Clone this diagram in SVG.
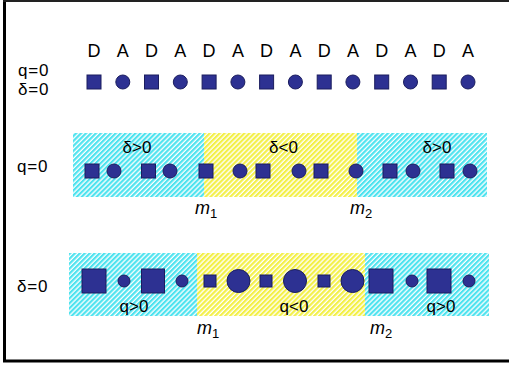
<svg xmlns="http://www.w3.org/2000/svg" width="509" height="368" viewBox="0 0 509 368">
<defs>
<pattern id="hc" patternUnits="userSpaceOnUse" width="3.5" height="3.5" patternTransform="rotate(45)">
<rect width="3.5" height="3.5" fill="#ffffff"/><rect width="2.2" height="3.5" fill="#4ee3ef"/>
</pattern>
<pattern id="hy" patternUnits="userSpaceOnUse" width="3.5" height="3.5" patternTransform="rotate(45)">
<rect width="3.5" height="3.5" fill="#ffffff"/><rect width="2.2" height="3.5" fill="#f3f048"/>
</pattern>
</defs>
<style>
text{font-family:"Liberation Sans",Arial,sans-serif;fill:#000}
.L{font-size:18px;text-anchor:middle}
.t{font-size:17px;letter-spacing:0.8px}
.c{font-size:17px;text-anchor:middle}
.m{font-size:18px;font-style:italic}
.s{font-size:13px;font-style:normal}
.sh{fill:#2d3192;stroke:#1b1d5e;stroke-width:1}
</style>
<rect width="509" height="368" fill="#ffffff"/>
<g id="frame" stroke="#000" fill="none">
<line x1="4.5" y1="0" x2="4.5" y2="362" stroke-width="3"/>
<line x1="3" y1="1" x2="509" y2="1" stroke-width="2" stroke="#222"/>
<line x1="3" y1="361" x2="509" y2="361" stroke-width="3"/>
</g>
<g id="row1">
<g id="letters">
<text class="L" x="94" y="57">D</text><text class="L" x="122.8" y="57">A</text>
<text class="L" x="151.5" y="57">D</text><text class="L" x="180.3" y="57">A</text>
<text class="L" x="209.1" y="57">D</text><text class="L" x="237.9" y="57">A</text>
<text class="L" x="266.6" y="57">D</text><text class="L" x="295.4" y="57">A</text>
<text class="L" x="324.2" y="57">D</text><text class="L" x="352.9" y="57">A</text>
<text class="L" x="381.7" y="57">D</text><text class="L" x="410.5" y="57">A</text>
<text class="L" x="439.2" y="57">D</text><text class="L" x="468" y="57">A</text>
</g>
<text class="t" x="18" y="76">q=0</text>
<text class="t" x="18" y="95">δ=0</text>
<g id="chain1">
<rect class="sh" x="87" y="75" width="14" height="14"/><circle class="sh" cx="122.8" cy="82" r="7"/>
<rect class="sh" x="144.5" y="75" width="14" height="14"/><circle class="sh" cx="180.3" cy="82" r="7"/>
<rect class="sh" x="202.1" y="75" width="14" height="14"/><circle class="sh" cx="237.9" cy="82" r="7"/>
<rect class="sh" x="259.6" y="75" width="14" height="14"/><circle class="sh" cx="295.4" cy="82" r="7"/>
<rect class="sh" x="317.2" y="75" width="14" height="14"/><circle class="sh" cx="352.9" cy="82" r="7"/>
<rect class="sh" x="374.7" y="75" width="14" height="14"/><circle class="sh" cx="410.5" cy="82" r="7"/>
<rect class="sh" x="432.2" y="75" width="14" height="14"/><circle class="sh" cx="468" cy="82" r="7"/>
</g>
</g>
<g id="row2">
<rect x="73" y="133" width="131" height="64" fill="url(#hc)"/>
<rect x="204" y="133" width="153" height="64" fill="url(#hy)"/>
<rect x="357" y="133" width="130" height="64" fill="url(#hc)"/>
<text class="t" x="17" y="172">q=0</text>
<text class="c" x="137" y="153">δ&gt;0</text>
<text class="c" x="283.5" y="153">δ&lt;0</text>
<text class="c" x="437" y="153">δ&gt;0</text>
<g id="chain2">
<rect class="sh" x="85" y="164" width="14" height="14"/><circle class="sh" cx="114" cy="171" r="7"/>
<rect class="sh" x="141.5" y="164" width="14" height="14"/><circle class="sh" cx="170" cy="171" r="7"/>
<rect class="sh" x="199" y="164" width="14" height="14"/><circle class="sh" cx="240" cy="171" r="7"/>
<rect class="sh" x="256" y="164" width="14" height="14"/><circle class="sh" cx="299" cy="171" r="7"/>
<rect class="sh" x="314" y="164" width="14" height="14"/><circle class="sh" cx="356" cy="171" r="7"/>
<rect class="sh" x="383" y="164" width="14" height="14"/><circle class="sh" cx="413" cy="171" r="7"/>
<rect class="sh" x="440" y="164" width="14" height="14"/><circle class="sh" cx="470" cy="171" r="7"/>
</g>
<text class="m" x="195" y="214">m<tspan class="s" dy="4">1</tspan></text>
<text class="m" x="350" y="214">m<tspan class="s" dy="4">2</tspan></text>
</g>
<g id="row3">
<rect x="69" y="253" width="128" height="63" fill="url(#hc)"/>
<rect x="197" y="253" width="168" height="63" fill="url(#hy)"/>
<rect x="365" y="253" width="124" height="63" fill="url(#hc)"/>
<text class="t" x="17" y="292">δ=0</text>
<text class="c" x="134" y="312">q&gt;0</text>
<text class="c" x="294" y="312">q&lt;0</text>
<text class="c" x="441" y="312">q&gt;0</text>
<g id="chain3">
<rect class="sh" x="82" y="269" width="24" height="24"/><circle class="sh" cx="124" cy="281" r="6"/>
<rect class="sh" x="141.5" y="269" width="23" height="24"/><circle class="sh" cx="182" cy="281" r="6"/>
<rect class="sh" x="204" y="275" width="12" height="12"/><circle class="sh" cx="238.5" cy="281" r="11.5"/>
<rect class="sh" x="260" y="275" width="12" height="12"/><circle class="sh" cx="295" cy="281" r="11.5"/>
<rect class="sh" x="318" y="275" width="12" height="12"/><circle class="sh" cx="352.5" cy="281" r="11.5"/>
<rect class="sh" x="369" y="269" width="24" height="24"/><circle class="sh" cx="412" cy="281" r="6"/>
<rect class="sh" x="427" y="269" width="24" height="24"/><circle class="sh" cx="469" cy="281" r="6"/>
</g>
<text class="m" x="197" y="334">m<tspan class="s" dy="4">1</tspan></text>
<text class="m" x="370" y="334">m<tspan class="s" dy="4">2</tspan></text>
</g>
</svg>
